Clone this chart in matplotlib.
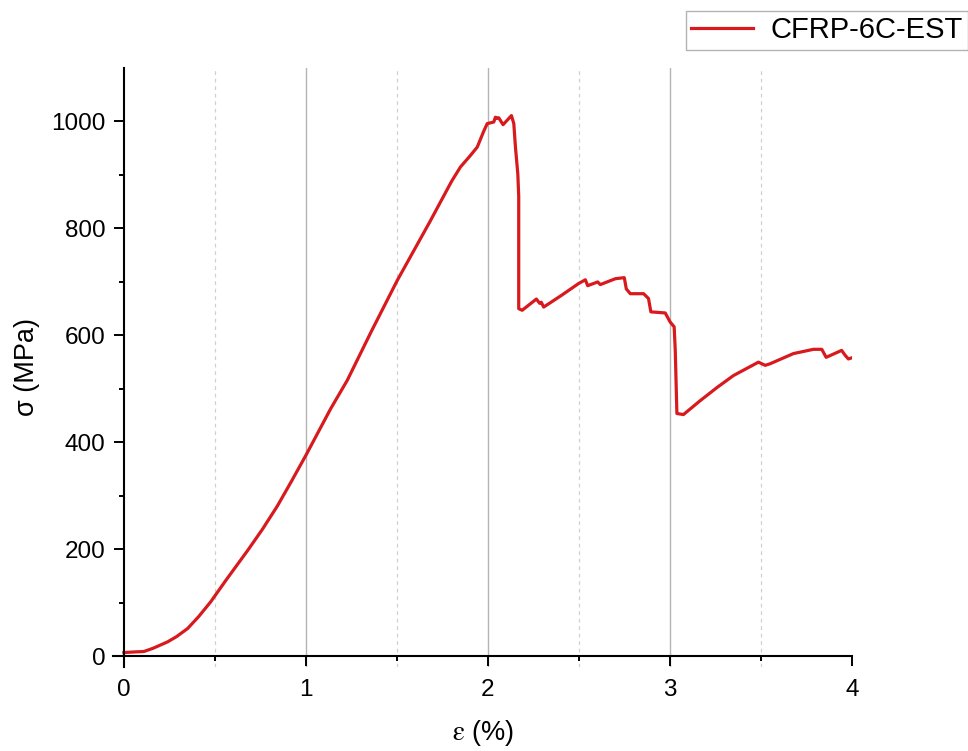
import numpy as np
import matplotlib
matplotlib.use("Agg")
import matplotlib.pyplot as plt

# courbe contrainte-deformation
strain = [0.0, 0.05, 0.11, 0.16, 0.2, 0.24, 0.29, 0.35, 0.41, 0.477, 0.56, 0.68, 0.76,
          0.843, 0.92, 1.0, 1.136, 1.227, 1.36, 1.502, 1.68, 1.80, 1.849, 1.90, 1.941,
          1.977, 1.996, 2.032, 2.041, 2.05, 2.059, 2.083, 2.129,
          2.142, 2.151, 2.164, 2.169, 2.169, 2.188, 2.266, 2.284, 2.293, 2.306, 2.40,
          2.498, 2.535, 2.548, 2.603, 2.617, 2.70, 2.749, 2.76, 2.782, 2.855, 2.882,
          2.895, 2.974, 3.001, 3.023, 3.029, 3.038, 3.074, 3.166, 3.26, 3.349, 3.486,
          3.523, 3.55, 3.678, 3.788, 3.834, 3.858, 3.943, 3.962, 3.98, 3.998]
stress = [7, 8, 9, 15, 21, 27, 37, 52, 74, 102, 142, 198, 237,
          281, 327, 376, 463, 516, 608, 703, 812, 888, 915, 935, 952,
          982, 996, 999, 1008, 1006, 1007, 994, 1011,
          996, 952, 902, 860, 650, 647, 668, 660, 662, 653, 674,
          697, 704, 693, 700, 695, 706, 708, 687, 678, 678, 669,
          644, 642, 625, 616, 572, 454, 452, 478, 503, 525, 550,
          544, 547, 566, 574, 574, 559, 572, 563, 556, 558]
series_name = "CFRP-6C-EST"

plt.rcParams["font.family"] = ["Liberation Sans", "DejaVu Sans"]
plt.rcParams["mathtext.fontset"] = "stix"

fig = plt.figure(figsize=(9.68, 7.51), dpi=100)
ax = fig.add_axes([113 / 968, 1 - 667 / 751, 739 / 968, (667 - 68) / 751])

line, = ax.plot(strain, stress, color="#d81a1e", lw=2.3, label=series_name)

ax.set_xlim(-0.06, 4)
ax.set_ylim(-20, 1100)
ax.spines["left"].set_position(("data", 0))
ax.spines["bottom"].set_position(("data", 0))
ax.spines["right"].set_visible(False)
ax.spines["top"].set_visible(False)
for s in ("left", "bottom"):
    ax.spines[s].set_linewidth(1.5)

ax.set_xticks([0, 1, 2, 3, 4])
ax.set_xticks([0.5, 1.5, 2.5, 3.5], minor=True)
ax.set_yticks([0, 200, 400, 600, 800, 1000])
ax.set_yticks([100, 300, 500, 700, 900], minor=True)
ax.tick_params(axis="both", which="major", direction="out", length=7.5, width=1.4,
               labelsize=17.5)
ax.tick_params(axis="both", which="minor", direction="out", length=3.5, width=1.4)
ax.tick_params(axis="x", which="major", pad=9)
ax.tick_params(axis="y", which="major", pad=6)

# grille verticale : pleine aux majeurs, pointillee aux mineurs
ax.grid(True, axis="x", which="major", color="#b4b4b4", lw=1.0)
ax.grid(True, axis="x", which="minor", color="#d0d0d0", lw=0.9, ls=(0, (3, 3)))
ax.xaxis.get_gridlines()[0].set_visible(False)
ax.xaxis.get_gridlines()[-1].set_visible(False)
ax.set_axisbelow(True)

ax.set_xlabel(r"$\mathrm{\varepsilon}$ (%)", fontsize=19.5, labelpad=12)
ax.set_ylabel("σ (MPa)", fontsize=19.5, labelpad=8)

# legende en haut a droite, coupee par le bord comme sur l'original
fig.legend(handles=[line], loc="upper left", bbox_to_anchor=(686 / 968, 1 - 11 / 751),
           fontsize=21, frameon=True, fancybox=False, edgecolor="#a0a0a0",
           handlelength=2.1, handletextpad=0.6, borderpad=0.18, borderaxespad=0)

fig.savefig("out.png", dpi=100)
